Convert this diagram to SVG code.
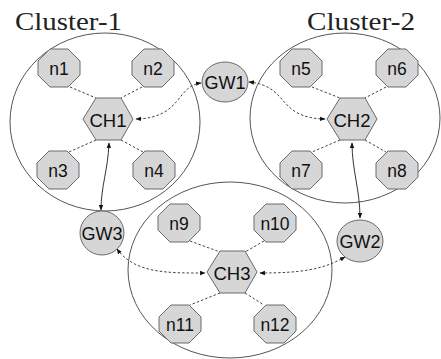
<svg xmlns="http://www.w3.org/2000/svg" width="441" height="359" viewBox="0 0 441 359">
<style>
.cl{fill:none;stroke:#555;stroke-width:1}
.title{font-family:"Liberation Serif","Times New Roman",serif;font-size:25px;fill:#222}
.nd{fill:#d6d6d6;stroke:#6a6a6a;stroke-width:1}
.lb{font-family:"Liberation Sans",Arial,sans-serif;fill:#111;text-anchor:middle;dominant-baseline:central}
.n{font-size:17.5px}
.ch{font-size:18.5px}
.gw{font-size:18px}
.e{fill:none;stroke:#444;stroke-width:1;stroke-dasharray:2.5 2}
.a{fill:none;stroke:#333;stroke-width:1}
</style>
<defs>
<polygon id="oct" points="-9,-19 9,-19 21,-7 21,7 9,19 -9,19 -21,7 -21,-7"/>
<polygon id="hex" points="-25,0 -12,-21 13,-21 25,0 13,21 -12,21"/>
<marker id="ah" viewBox="0 0 10 10" refX="9" refY="5" markerWidth="5.5" markerHeight="5.5" orient="auto-start-reverse">
<path d="M0,1 L10,5 L0,9 z" fill="#111"/>
</marker>
</defs>

<g id="clusters">
<ellipse class="cl" cx="105" cy="122" rx="95" ry="89"/>
<ellipse class="cl" cx="345" cy="118" rx="95" ry="85"/>
<ellipse class="cl" cx="230" cy="270" rx="102" ry="88"/>
<text class="title" x="15" y="30" textLength="107" lengthAdjust="spacingAndGlyphs">Cluster-1</text>
<text class="title" x="307" y="30" textLength="108" lengthAdjust="spacingAndGlyphs">Cluster-2</text>
</g>

<g id="connectors">
<line class="e" x1="70" y1="87" x2="96" y2="98"/>
<line class="e" x1="142" y1="87" x2="121" y2="98"/>
<line class="e" x1="96" y1="140" x2="69" y2="152"/>
<line class="e" x1="121" y1="140" x2="143" y2="152"/>
<line class="e" x1="312" y1="87" x2="340" y2="98"/>
<line class="e" x1="386" y1="87" x2="365" y2="98"/>
<line class="e" x1="340" y1="140" x2="312" y2="152"/>
<line class="e" x1="365" y1="140" x2="386" y2="152"/>
<line class="e" x1="190" y1="241" x2="220" y2="252"/>
<line class="e" x1="264" y1="241" x2="245" y2="252"/>
<line class="e" x1="220" y1="293" x2="190" y2="305"/>
<line class="e" x1="245" y1="293" x2="264" y2="305"/>
<path class="e" d="M201,83 C176,86 182,118 136,119" marker-start="url(#ah)" marker-end="url(#ah)"/>
<path class="e" d="M249,82 C290,86 276,118 325,119" marker-start="url(#ah)" marker-end="url(#ah)"/>
<path class="a" d="M109,143 C108,170 101,186 101,210" marker-start="url(#ah)" marker-end="url(#ah)"/>
<path class="a" d="M352,143 C352,170 360,190 360,218" marker-start="url(#ah)" marker-end="url(#ah)"/>
<path class="e" d="M117,249 C135,274 170,273 205,273" marker-start="url(#ah)" marker-end="url(#ah)"/>
<path class="e" d="M260,273 C300,273 322,270 345,257" marker-start="url(#ah)" marker-end="url(#ah)"/>
</g>

<g id="n1"><use href="#oct" class="nd" x="59" y="68"/><text class="lb n" x="59" y="69">n1</text></g>
<g id="n2"><use href="#oct" class="nd" x="153" y="68"/><text class="lb n" x="153" y="69">n2</text></g>
<g id="n3"><use href="#oct" class="nd" x="58" y="170"/><text class="lb n" x="58" y="171">n3</text></g>
<g id="n4"><use href="#oct" class="nd" x="154" y="170"/><text class="lb n" x="154" y="171">n4</text></g>
<g id="CH1"><use href="#hex" class="nd" x="108" y="119"/><text class="lb ch" x="108" y="120">CH1</text></g>

<g id="n5"><use href="#oct" class="nd" x="301" y="68"/><text class="lb n" x="301" y="69">n5</text></g>
<g id="n6"><use href="#oct" class="nd" x="397" y="68"/><text class="lb n" x="397" y="69">n6</text></g>
<g id="n7"><use href="#oct" class="nd" x="301" y="170"/><text class="lb n" x="301" y="171">n7</text></g>
<g id="n8"><use href="#oct" class="nd" x="397" y="170"/><text class="lb n" x="397" y="171">n8</text></g>
<g id="CH2"><use href="#hex" class="nd" x="352" y="119"/><text class="lb ch" x="352" y="120">CH2</text></g>

<g id="n9"><use href="#oct" class="nd" x="179" y="223"/><text class="lb n" x="179" y="224">n9</text></g>
<g id="n10"><use href="#oct" class="nd" x="275" y="223"/><text class="lb n" x="275" y="224">n10</text></g>
<g id="n11"><use href="#oct" class="nd" x="180" y="324"/><text class="lb n" x="180" y="325">n11</text></g>
<g id="n12"><use href="#oct" class="nd" x="275" y="324"/><text class="lb n" x="275" y="325">n12</text></g>
<g id="CH3"><use href="#hex" class="nd" x="232" y="272"/><text class="lb ch" x="232" y="273">CH3</text></g>

<g id="GW1"><ellipse class="nd" cx="225" cy="82" rx="23" ry="20"/><text class="lb gw" x="225" y="83">GW1</text></g>
<g id="GW2"><ellipse class="nd" cx="360" cy="241" rx="23" ry="21"/><text class="lb gw" x="360" y="242">GW2</text></g>
<g id="GW3"><ellipse class="nd" cx="102" cy="233" rx="22" ry="22"/><text class="lb gw" x="102" y="234">GW3</text></g>
</svg>
